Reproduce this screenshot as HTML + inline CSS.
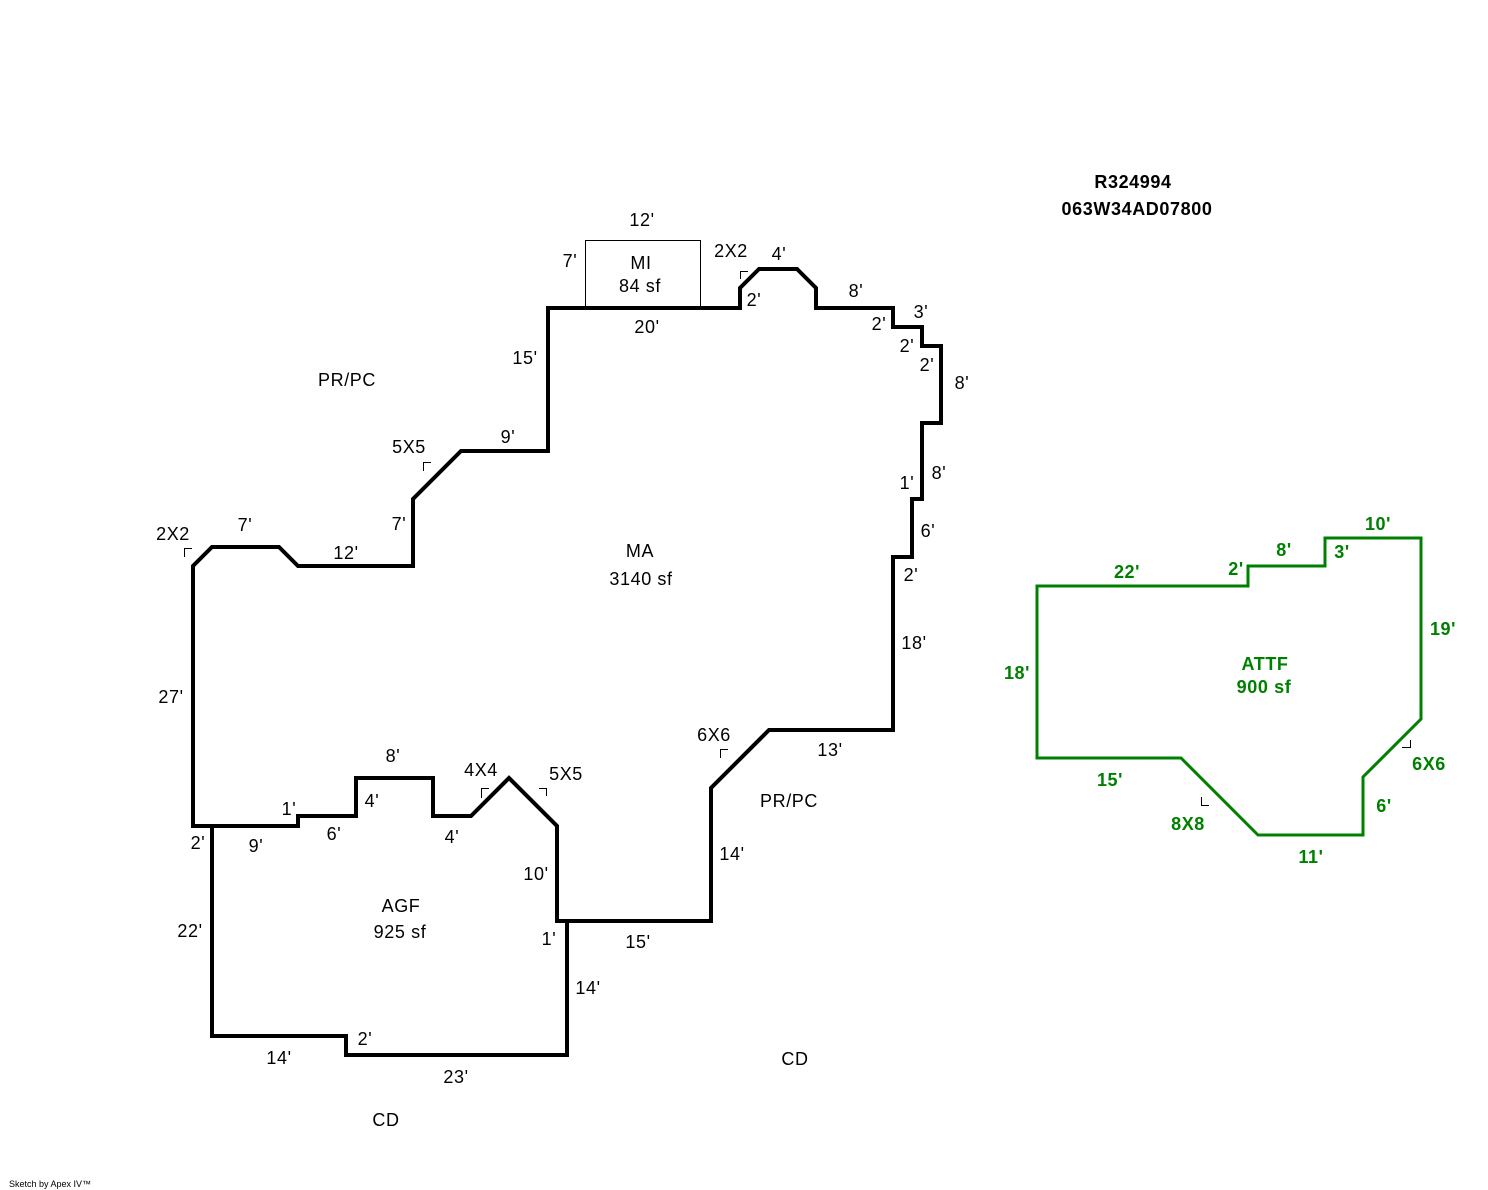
<!DOCTYPE html>
<html><head><style>
html,body{margin:0;padding:0;background:#fff;}
svg{display:block;}
text{font-family:"Liberation Sans",Arial,sans-serif;font-size:18px;letter-spacing:0.6px;fill:#000;text-anchor:middle;}
.g{fill:#008000;font-weight:bold;}
.b{font-weight:bold;}
</style></head><body>
<svg width="1488" height="1190" viewBox="0 0 1488 1190" xmlns="http://www.w3.org/2000/svg">
<rect x="585.5" y="240.5" width="115" height="67" fill="none" stroke="#000" stroke-width="1"/>
<polygon fill="none" stroke="#000" stroke-width="4" stroke-linejoin="miter" points="548,308 740,308 740,288 759,269 797,269 816,288 816,308 893,308 893,327 922,327 922,346 941,346 941,423 922,423 922,499 912,499 912,557 893,557 893,730 769,730 711,788 711,921 557,921 557,826 509,778 471,816 433,816 433,778 356,778 356,816 298,816 298,826 193,826 193,566 212,547 279,547 298,566 413,566 413,499 461,451 548,451"/>
<polyline fill="none" stroke="#000" stroke-width="4" points="212,826 212,1036 346,1036 346,1055 567,1055 567,921"/>
<polygon fill="none" stroke="#008000" stroke-width="3" points="1037,586 1248,586 1248,566 1325,566 1325,538 1421,538 1421,719 1363,777 1363,835 1258,835 1181,758 1037,758"/>
<g fill="none" stroke="#000" stroke-width="1">
<path d="M740.5,279 V271.5 H748"/><path d="M184.5,557 V548.5 H192"/><path d="M423.5,471 V462.5 H431"/>
<path d="M481.5,798 V788.5 H489"/><path d="M539,788.5 H546.5 V796"/><path d="M720.5,758 V749.5 H728"/>
<path d="M1201.5,797 V805.5 H1209"/><path d="M1402,747.5 H1410.5 V740"/>
</g>
<text x="1133" y="188" class="b">R324994</text>
<text x="1137" y="215" class="b">063W34AD07800</text>
<text x="642" y="226">12'</text><text x="570" y="267">7'</text>
<text x="641" y="269">MI</text><text x="640" y="292">84 sf</text>
<text x="647" y="333">20'</text>
<text x="731" y="257">2X2</text><text x="779" y="260">4'</text>
<text x="754" y="306">2'</text><text x="856" y="297">8'</text>
<text x="879" y="330">2'</text><text x="921" y="318">3'</text>
<text x="907" y="352">2'</text><text x="927" y="371">2'</text>
<text x="962" y="389">8'</text><text x="939" y="479">8'</text>
<text x="907" y="489">1'</text><text x="928" y="537">6'</text>
<text x="911" y="581">2'</text><text x="914" y="649">18'</text>
<text x="830" y="756">13'</text><text x="714" y="741">6X6</text>
<text x="789" y="807">PR/PC</text><text x="732" y="860">14'</text>
<text x="638" y="948">15'</text><text x="549" y="945">1'</text>
<text x="536" y="880">10'</text><text x="566" y="780">5X5</text>
<text x="481" y="776">4X4</text><text x="452" y="843">4'</text>
<text x="393" y="762">8'</text><text x="372" y="807">4'</text>
<text x="334" y="840">6'</text><text x="289" y="815">1'</text>
<text x="256" y="852">9'</text><text x="198" y="849">2'</text>
<text x="190" y="937">22'</text><text x="401" y="912">AGF</text>
<text x="400" y="938">925 sf</text><text x="588" y="994">14'</text>
<text x="365" y="1045">2'</text><text x="279" y="1064">14'</text>
<text x="456" y="1083">23'</text><text x="386" y="1126">CD</text>
<text x="795" y="1065">CD</text>
<text x="171" y="703">27'</text><text x="173" y="540">2X2</text>
<text x="245" y="531">7'</text><text x="346" y="559">12'</text>
<text x="399" y="530">7'</text><text x="409" y="453">5X5</text>
<text x="508" y="443">9'</text><text x="525" y="364">15'</text>
<text x="347" y="386">PR/PC</text>
<text x="640" y="557">MA</text><text x="641" y="585">3140 sf</text>
<text x="1127" y="578" class="g">22'</text><text x="1236" y="575" class="g">2'</text>
<text x="1284" y="556" class="g">8'</text><text x="1342" y="558" class="g">3'</text>
<text x="1378" y="530" class="g">10'</text><text x="1443" y="635" class="g">19'</text>
<text x="1429" y="770" class="g">6X6</text><text x="1384" y="812" class="g">6'</text>
<text x="1311" y="863" class="g">11'</text><text x="1188" y="830" class="g">8X8</text>
<text x="1110" y="786" class="g">15'</text><text x="1017" y="679" class="g">18'</text>
<text x="1265" y="670" class="g">ATTF</text><text x="1264" y="693" class="g">900 sf</text>
<text x="50" y="1187" style="font-size:9px;letter-spacing:0">Sketch by Apex IV™</text>
</svg>
</body></html>
